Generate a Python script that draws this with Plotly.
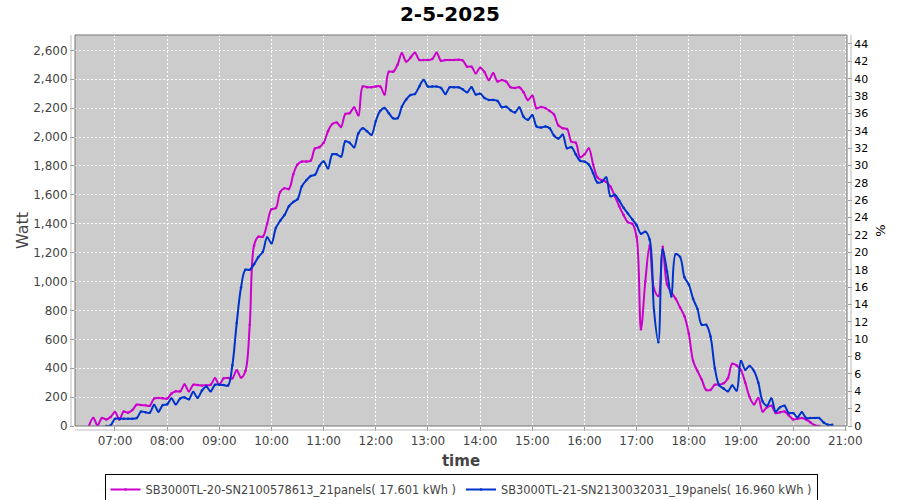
import plotly.graph_objects as go

DAY = "2025-05-02 "

# SB3000TL-20-SN2100578613 (magenta), 5-minute samples from 06:30
times_a = ["06:30","06:35","06:40","06:45","06:50","06:55","07:00","07:05","07:10","07:15","07:20","07:25",
           "07:30","07:35","07:40","07:45","07:50","07:55","08:00","08:05","08:10","08:15","08:20","08:25",
           "08:30","08:35","08:40","08:45","08:50","08:55","09:00","09:05","09:10","09:15","09:20","09:25",
           "09:30","09:35","09:40","09:45","09:50","09:55","10:00","10:05","10:10","10:15","10:20","10:25",
           "10:30","10:35","10:40","10:45","10:50","10:55","11:00","11:05","11:10","11:15","11:20","11:25",
           "11:30","11:35","11:40","11:45","11:50","11:55","12:00","12:05","12:10","12:15","12:20","12:25",
           "12:30","12:35","12:40","12:45","12:50","12:55","13:00","13:05","13:10","13:15","13:20","13:25",
           "13:30","13:35","13:40","13:45","13:50","13:55","14:00","14:05","14:10","14:15","14:20","14:25",
           "14:30","14:35","14:40","14:45","14:50","14:55","15:00","15:05","15:10","15:15","15:20","15:25",
           "15:30","15:35","15:40","15:45","15:50","15:55","16:00","16:05","16:10","16:15","16:20","16:25",
           "16:30","16:35","16:40","16:45","16:50","16:55","17:00","17:05","17:10","17:15","17:20","17:25",
           "17:30","17:35","17:40","17:45","17:50","17:55","18:00","18:05","18:10","18:15","18:20","18:25",
           "18:30","18:35","18:40","18:45","18:50","18:55","19:00","19:05","19:10","19:15","19:20","19:25",
           "19:30","19:35","19:40","19:45","19:50","19:55","20:00","20:05","20:10","20:15","20:20","20:25",
           "20:30"]
watt_a = [0,55,5,55,45,62,97,45,100,92,110,147,
          145,143,140,190,193,192,190,225,240,240,288,240,
          285,283,281,282,285,330,285,330,332,330,385,335,
          380,700,1250,1310,1310,1400,1500,1508,1620,1646,1640,1740,
          1810,1830,1830,1835,1920,1930,1960,2040,2090,2100,2070,2160,
          2165,2205,2150,2350,2345,2345,2350,2350,2295,2452,2452,2500,
          2580,2522,2550,2584,2533,2533,2533,2540,2584,2528,2533,2533,
          2533,2535,2530,2487,2487,2441,2480,2450,2395,2441,2385,2395,
          2383,2345,2340,2344,2310,2257,2285,2199,2208,2200,2180,2155,
          2080,2061,2055,1968,1960,1860,1880,1920,1810,1720,1700,1690,
          1655,1590,1520,1460,1410,1400,1310,670,1000,1250,950,900,
          1240,980,925,880,820,760,640,450,380,320,250,250,
          286,286,295,330,430,420,385,300,200,150,194,100,
          130,140,90,95,100,75,45,50,55,45,25,5,
          0]

# SB3000TL-21-SN2130032031 (blue), 5-minute samples from 06:50
times_b = ["06:50","06:55","07:00","07:05","07:10","07:15","07:20","07:25",
           "07:30","07:35","07:40","07:45","07:50","07:55","08:00","08:05","08:10","08:15","08:20","08:25",
           "08:30","08:35","08:40","08:45","08:50","08:55","09:00","09:05","09:10","09:15","09:20","09:25",
           "09:30","09:35","09:40","09:45","09:50","09:55","10:00","10:05","10:10","10:15","10:20","10:25",
           "10:30","10:35","10:40","10:45","10:50","10:55","11:00","11:05","11:10","11:15","11:20","11:25",
           "11:30","11:35","11:40","11:45","11:50","11:55","12:00","12:05","12:10","12:15","12:20","12:25",
           "12:30","12:35","12:40","12:45","12:50","12:55","13:00","13:05","13:10","13:15","13:20","13:25",
           "13:30","13:35","13:40","13:45","13:50","13:55","14:00","14:05","14:10","14:15","14:20","14:25",
           "14:30","14:35","14:40","14:45","14:50","14:55","15:00","15:05","15:10","15:15","15:20","15:25",
           "15:30","15:35","15:40","15:45","15:50","15:55","16:00","16:05","16:10","16:15","16:20","16:25",
           "16:30","16:35","16:40","16:45","16:50","16:55","17:00","17:05","17:10","17:15","17:20","17:25",
           "17:30","17:35","17:40","17:45","17:50","17:55","18:00","18:05","18:10","18:15","18:20","18:25",
           "18:30","18:35","18:40","18:45","18:50","18:55","19:00","19:05","19:10","19:15","19:20","19:25",
           "19:30","19:35","19:40","19:45","19:50","19:55","20:00","20:05","20:10","20:15","20:20","20:25",
           "20:30","20:35","20:40","20:45"]
watt_b = [0,5,50,50,50,50,50,55,
          100,95,92,145,100,145,150,190,150,190,198,185,
          235,195,245,274,240,285,286,283,280,420,712,960,
          1081,1081,1120,1170,1205,1305,1265,1370,1420,1460,1520,1550,
          1570,1660,1700,1730,1738,1800,1830,1784,1880,1880,1865,1970,
          1960,1930,2026,2060,2040,2015,2110,2180,2200,2165,2130,2130,
          2210,2260,2291,2298,2350,2395,2349,2349,2349,2340,2298,2344,
          2344,2344,2330,2310,2344,2295,2300,2270,2257,2257,2250,2206,
          2210,2185,2170,2205,2140,2120,2150,2072,2065,2072,2060,2010,
          1990,2015,1923,1930,1880,1835,1830,1810,1750,1685,1690,1720,
          1590,1600,1560,1510,1470,1430,1390,1330,1345,1290,800,580,
          1220,1070,896,1190,1170,1030,980,880,810,700,700,620,
          400,282,260,240,280,245,450,390,415,380,300,170,
          140,190,100,130,140,90,90,60,95,55,55,55,
          55,25,9,9]

name_a = "SB3000TL-20-SN2100578613_21panels( 17.601 kWh )"
name_b = "SB3000TL-21-SN2130032031_19panels( 16.960 kWh )"
title = "2-5-2025"
pct_ticks = list(range(0, 46, 2))

FONT = "DejaVu Sans"
W, H = 900, 500
L, R, T, B = 75, 53, 35, 74
pw, ph = W - L - R, H - T - B

fig = go.Figure()
fig.add_trace(go.Scatter(
    x=[DAY + t for t in times_a], y=watt_a, name=name_a, mode="lines+markers",
    line=dict(color="#cc00cc", width=2, shape="spline", smoothing=1.0),
    marker=dict(size=2.5, color="#cc00cc")))
fig.add_trace(go.Scatter(
    x=[DAY + t for t in times_b], y=watt_b, name=name_b, mode="lines+markers",
    line=dict(color="#0033cc", width=2, shape="spline", smoothing=1.0),
    marker=dict(size=2.5, color="#0033cc")))
fig.add_trace(go.Scatter(x=[DAY + "12:00"], y=[None], yaxis="y2", showlegend=False,
                         mode="lines", hoverinfo="skip"))

grid = dict(showgrid=True, gridcolor="white", gridwidth=1, griddash="2px,2px")
tickfont = dict(family=FONT, size=12, color="#444444")

fig.update_layout(
    width=W, height=H,
    margin=dict(l=L, r=R, t=T, b=B, pad=0, autoexpand=False),
    paper_bgcolor="white", plot_bgcolor="#cccccc",
    font=dict(family=FONT, size=12, color="#444444"),
    title=dict(text="<b>" + title + "</b>", x=0.5, xanchor="center", y=1 - 14 / H, yanchor="middle",
               font=dict(family=FONT, size=20, color="black")),
    xaxis=dict(type="date", range=[DAY + "06:14", DAY + "21:02"], automargin=False,
               tick0=DAY + "07:00", dtick=3600000, tickformat="%H:%M",
               ticks="outside", ticklen=4, tickcolor="#999999", tickfont=tickfont,
               showline=False, zeroline=False,
               title=dict(text="<b>time</b>", font=dict(family=FONT, size=15, color="#444444"), standoff=8),
               **grid),
    yaxis=dict(range=[0, 2706], dtick=200, tickformat=",d", automargin=False,
               ticks="outside", ticklen=4, tickcolor="#999999", tickfont=tickfont,
               showline=False, zeroline=False,
               title=dict(text="Watt", font=dict(family=FONT, size=16, color="#444444"), standoff=0),
               **grid),
    yaxis2=dict(range=[0, 45.03], tickvals=pct_ticks, overlaying="y", side="right", automargin=False,
                ticks="outside", ticklen=4, tickcolor="#999999",
                tickfont=dict(family=FONT, size=11, color="black"),
                showgrid=False, zeroline=False, showline=False,
                title=dict(text="%", font=dict(family=FONT, size=13, color="black"), standoff=8)),
    legend=dict(orientation="h", x=0.5, xanchor="center", y=(T + ph - 474) / ph, yanchor="top",
                bordercolor="black", borderwidth=1, bgcolor="white",
                font=dict(family=FONT, size=11.4, color="#444444"),
                itemwidth=30, tracegroupgap=0),
    showlegend=True,
)

# plot border and offset axis lines (paper coordinates)
fig.add_shape(type="rect", xref="paper", yref="paper", x0=0, x1=1, y0=0, y1=1,
              line=dict(color="#777777", width=1))
off_x, off_y = 4 / pw, 4 / ph
fig.add_shape(type="line", xref="paper", yref="paper", x0=-off_x, x1=-off_x, y0=0, y1=1,
              line=dict(color="#bbbbbb", width=1))
fig.add_shape(type="line", xref="paper", yref="paper", x0=1 + off_x, x1=1 + off_x, y0=0, y1=1,
              line=dict(color="#bbbbbb", width=1))
fig.add_shape(type="line", xref="paper", yref="paper", x0=0, x1=1, y0=-off_y, y1=-off_y,
              line=dict(color="#bbbbbb", width=1))

fig.write_html("out.html", config={"displayModeBar": False},
               post_script="document.body.style.margin='0';")
